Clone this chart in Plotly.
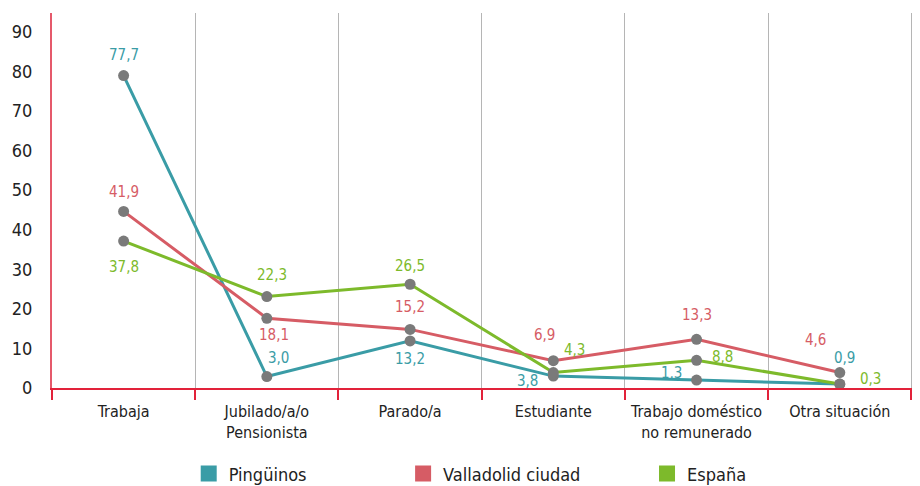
import plotly.graph_objects as go

categorias = ["Trabaja", "Jubilado/a/o<br>Pensionista", "Parado/a", "Estudiante",
              "Trabajo doméstico<br>no remunerado", "Otra situación"]

pinguinos = [78.9, 2.9, 11.9, 3.0, 2.0, 1.0]
valladolid = [44.6, 17.6, 14.8, 6.9, 12.3, 3.9]
espana = [37.1, 23.1, 26.2, 3.9, 7.0, 1.0]

# etiquetas tal y como aparecen en el grafico
et_pinguinos = ["77,7", "3,0", "13,2", "3,8", "1,3", "0,9"]
et_valladolid = ["41,9", "18,1", "15,2", "6,9", "13,3", "4,6"]
et_espana = ["37,8", "22,3", "26,5", "4,3", "8,8", "0,3"]

# desplazamiento de cada etiqueta respecto a su punto (px)
off_pinguinos = [(0, 21), (12, 19), (0, -18), (-26, -5), (-25, 7), (5, 26)]
off_valladolid = [(0, 19), (7, -17), (0, 22), (-9, 26), (0, 24), (-24, 33)]
off_espana = [(0, -26), (5, 22), (0, 18), (21, 23), (26, 3), (31, 5)]

FUENTE = "Liberation Sans Narrow, DejaVu Sans Condensed, Roboto, sans-serif"
series = [
    ("Pingüinos", pinguinos, et_pinguinos, off_pinguinos, "#3a9ca6"),
    ("Valladolid ciudad", valladolid, et_valladolid, off_valladolid, "#d65c65"),
    ("España", espana, et_espana, off_espana, "#7dba2b"),
]
legend_x = [0.1575, 0.4045, 0.6855]

fig = go.Figure()
annotations = []
for i, (nombre, vals, etiquetas, offs, color) in enumerate(series):
    fig.add_trace(go.Scatter(
        x=categorias, y=vals, mode="lines+markers", name=nombre,
        line=dict(color=color, width=3),
        marker=dict(color="#7a7a7a", size=11),
        cliponaxis=False, showlegend=False, hoverinfo="skip"
    ))
    # traza solo para la leyenda (cuadrado de color)
    fig.add_trace(go.Scatter(
        x=[None], y=[None], mode="markers", name=nombre,
        marker=dict(color=color, symbol="square", size=16),
        legend="legend" if i == 0 else f"legend{i + 1}"
    ))
    for c, v, t, (dx, dy) in zip(categorias, vals, etiquetas, offs):
        annotations.append(dict(
            x=c, y=v, text=t, showarrow=False, xshift=dx, yshift=dy,
            font=dict(color=color, size=15, family=FUENTE)
        ))

leg = dict(orientation="h", yanchor="middle", y=-0.229, xanchor="left",
           font=dict(size=18, color="#222222", family=FUENTE),
           bgcolor="rgba(0,0,0,0)")
# la pagina tiene 8px de margen en el body, se descuenta aqui
fig.update_layout(
    width=912, height=478,
    margin=dict(l=44, r=0, t=5, b=98, autoexpand=False),
    plot_bgcolor="white", paper_bgcolor="white",
    font=dict(family=FUENTE, color="#222222"),
    annotations=annotations,
    legend=dict(leg, x=legend_x[0]),
    legend2=dict(leg, x=legend_x[1]),
    legend3=dict(leg, x=legend_x[2]),
)
fig.update_xaxes(
    type="category", categoryorder="array", categoryarray=categorias,
    range=[-0.5, 5.56], tickson="boundaries",
    ticks="outside", ticklen=10, tickcolor="#e2223a", tickwidth=1.5,
    showgrid=True, gridcolor="#b5b5b5", gridwidth=1,
    showline=True, linecolor="#e2223a", linewidth=2,
    ticklabelstandoff=8,
    tickfont=dict(size=16, color="#222222"), zeroline=False
)
fig.update_yaxes(
    range=[0, 94.7], tickmode="linear", tick0=0, dtick=10,
    showgrid=False, zeroline=False,
    showline=True, linecolor="#e5596b", linewidth=2,
    ticks="", ticklabelstandoff=14,
    tickfont=dict(size=18, color="#222222")
)

fig.write_html("out.html")
